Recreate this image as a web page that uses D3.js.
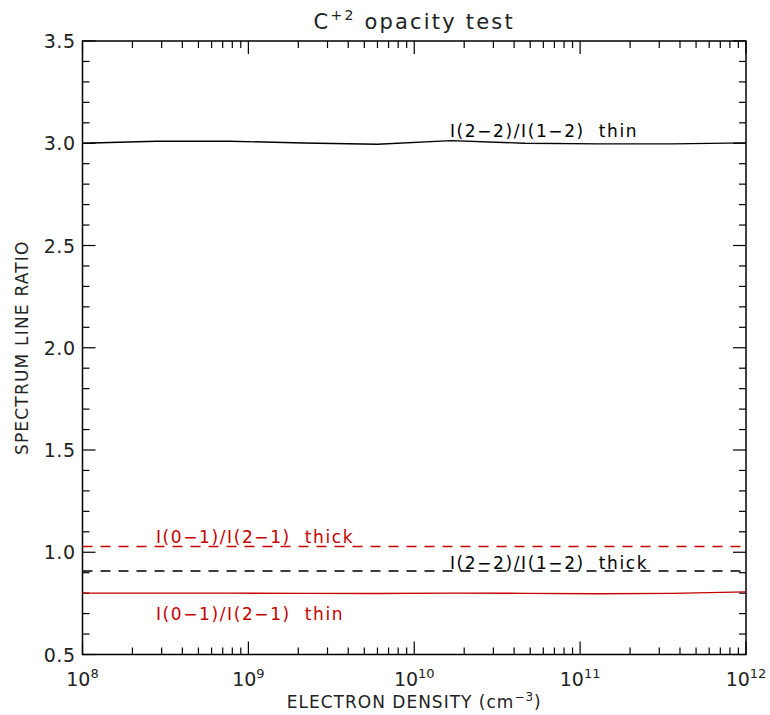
<!DOCTYPE html>
<html>
<head>
<meta charset="utf-8">
<script src="https://cdn.jsdelivr.net/npm/d3@7"></script>
<style>
  body { margin: 0; background: #fff; }
  text { font-family: "DejaVu Sans", sans-serif; }
</style>
</head>
<body>
<div id="chart"></div>
<script>
// electron density grid (cm^-3)
var density = [1e8, 2.78e8, 7.74e8, 2.15e9, 5.99e9, 1.67e10, 4.64e10, 1.29e11, 3.59e11, 1e12];

// line ratios
var thin22 = [3.000, 3.010, 3.010, 3.001, 2.995, 3.013, 3.000, 2.997, 2.997, 3.002];
var thick22 = [0.908, 0.908, 0.908, 0.908, 0.908, 0.908, 0.908, 0.908, 0.908, 0.908];
var thin01 = [0.800, 0.800, 0.800, 0.799, 0.798, 0.800, 0.799, 0.797, 0.799, 0.806];
var thick01 = [1.028, 1.028, 1.028, 1.028, 1.028, 1.028, 1.028, 1.028, 1.028, 1.028];

var yTicks = [0.5, 1.0, 1.5, 2.0, 2.5, 3.0, 3.5];
var xDecades = [8, 9, 10, 11, 12];

var red = "#c40000";

var width = 770, height = 715;
var margin = {left: 82.5, right: 24, top: 41, bottom: 60.5};

var svg = d3.select("#chart").append("svg")
    .attr("width", width)
    .attr("height", height);

var xScale = d3.scaleLog()
    .domain([1e8, 1e12])
    .range([margin.left, width - margin.right]);

var yScale = d3.scaleLinear()
    .domain([0.5, 3.5])
    .range([height - margin.bottom, margin.top]);

var x0 = xScale.range()[0], x1 = xScale.range()[1];
var y0 = yScale.range()[0], y1 = yScale.range()[1];

// frame
svg.append("rect")
    .attr("x", x0).attr("y", y1)
    .attr("width", x1 - x0).attr("height", y0 - y1)
    .attr("fill", "none")
    .attr("stroke", "#000")
    .attr("stroke-width", 1.5);

// y ticks (major every 0.5, minor every 0.1), inward on both sides
var yMinor = d3.range(5, 36).map(function(v) { return v / 10; });
var tickG = svg.append("g").attr("stroke", "#000").attr("stroke-width", 1.2);
yMinor.forEach(function(v) {
  var major = Math.abs(v * 2 - Math.round(v * 2)) < 1e-6;
  var len = major ? 13 : 7;
  var y = yScale(v);
  tickG.append("line").attr("x1", x0).attr("x2", x0 + len).attr("y1", y).attr("y2", y);
  tickG.append("line").attr("x1", x1).attr("x2", x1 - len).attr("y1", y).attr("y2", y);
});

// x ticks (decades major, 2..9 minor), inward top and bottom
xDecades.forEach(function(e, i) {
  var base = Math.pow(10, e);
  var steps = i < xDecades.length - 1 ? d3.range(1, 10) : [1];
  steps.forEach(function(m) {
    var x = xScale(base * m);
    var len = m === 1 ? 13 : 7;
    tickG.append("line").attr("x1", x).attr("x2", x).attr("y1", y0).attr("y2", y0 - len);
    tickG.append("line").attr("x1", x).attr("x2", x).attr("y1", y1).attr("y2", y1 + len);
  });
});

// y tick labels
svg.append("g").selectAll("text")
    .data(yTicks)
    .enter().append("text")
    .attr("x", x0 - 7)
    .attr("y", function(d) { return yScale(d) + 7; })
    .attr("text-anchor", "end")
    .attr("font-size", 19)
    .attr("letter-spacing", 0.5)
    .attr("fill", "#222")
    .text(function(d) { return d.toFixed(1); });

// x tick labels 10^n
var xl = svg.append("g").selectAll("text")
    .data(xDecades)
    .enter().append("text")
    .attr("x", function(d) { return xScale(Math.pow(10, d)); })
    .attr("y", 686)
    .attr("text-anchor", "middle")
    .attr("font-size", 19)
    .attr("fill", "#222");
xl.append("tspan").text("10");
xl.append("tspan").attr("dy", -8).attr("font-size", 13).text(function(d) { return d; });

// lines
var line = d3.line()
    .x(function(d) { return xScale(d[0]); })
    .y(function(d) { return yScale(d[1]); });

function addSeries(vals, color, dash) {
  svg.append("path")
      .datum(d3.zip(density, vals))
      .attr("d", line)
      .attr("fill", "none")
      .attr("stroke", color)
      .attr("stroke-width", 1.4)
      .attr("stroke-dasharray", dash);
}
addSeries(thin22, "#000", null);
addSeries(thick22, "#000", "10,8");
addSeries(thin01, red, null);
addSeries(thick01, red, "10,8");

// series labels
var labels = [
  {t: "I(2\u22122)/I(1\u22122)  thin",  x: 450, y: 137, c: "#000"},
  {t: "I(0\u22121)/I(2\u22121)  thick", x: 156, y: 543, c: red},
  {t: "I(2\u22122)/I(1\u22122)  thick", x: 450, y: 569, c: "#000"},
  {t: "I(0\u22121)/I(2\u22121)  thin",  x: 156, y: 620, c: red}
];
svg.append("g").selectAll("text")
    .data(labels)
    .enter().append("text")
    .attr("x", function(d) { return d.x; })
    .attr("y", function(d) { return d.y; })
    .attr("font-size", 17)
    .attr("letter-spacing", 1.6)
    .attr("fill", function(d) { return d.c; })
    .style("white-space", "pre")
    .attr("xml:space", "preserve")
    .text(function(d) { return d.t; });

// title
var title = svg.append("text")
    .attr("x", (x0 + x1) / 2)
    .attr("y", 29)
    .attr("text-anchor", "middle")
    .attr("font-size", 21)
    .attr("letter-spacing", 2.2)
    .attr("fill", "#222");
title.append("tspan").text("C");
title.append("tspan").attr("dy", -9).attr("font-size", 14).text("+2");
title.append("tspan").attr("dy", 9).text(" opacity test");

// axis titles
var xt = svg.append("text")
    .attr("x", (x0 + x1) / 2)
    .attr("y", 708)
    .attr("text-anchor", "middle")
    .attr("font-size", 17)
    .attr("letter-spacing", 1.0)
    .attr("fill", "#222");
xt.append("tspan").text("ELECTRON DENSITY (cm");
xt.append("tspan").attr("dy", -7).attr("font-size", 12).text("\u22123");
xt.append("tspan").attr("dy", 7).text(")");

svg.append("text")
    .attr("transform", "translate(28," + ((y0 + y1) / 2) + ") rotate(-90)")
    .attr("text-anchor", "middle")
    .attr("font-size", 17)
    .attr("letter-spacing", 1.2)
    .attr("fill", "#222")
    .text("SPECTRUM LINE RATIO");
</script>
</body>
</html>
